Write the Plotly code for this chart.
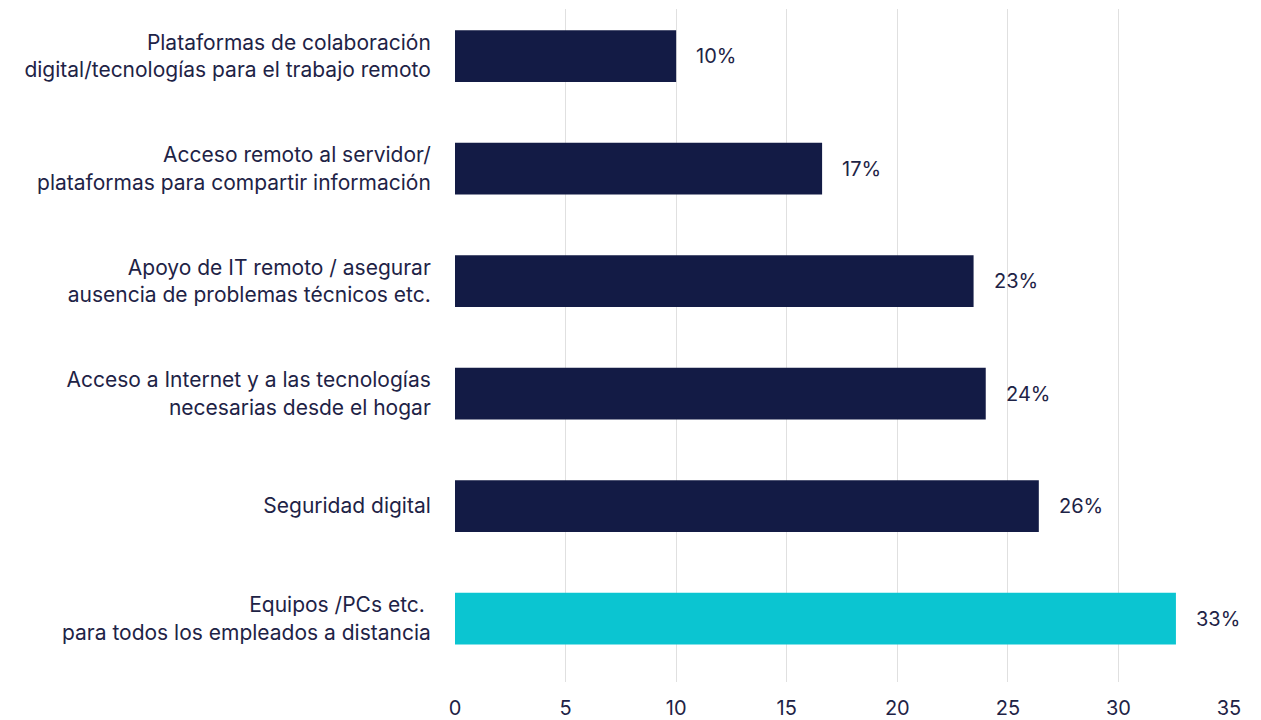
import plotly.graph_objects as go

categories = [
    "Plataformas de colaboración<br>digital/tecnologías para el trabajo remoto",
    "Acceso remoto al servidor/<br>plataformas para compartir información",
    "Apoyo de IT remoto / asegurar<br>ausencia de problemas técnicos etc.",
    "Acceso a Internet y a las tecnologías<br>necesarias desde el hogar",
    "Seguridad digital",
    "Equipos /PCs etc. <br>para todos los empleados a distancia",
]
values = [10.0, 16.6, 23.45, 24.0, 26.4, 32.6]
bar_colors = ["#131b45", "#131b45", "#131b45", "#131b45", "#131b45", "#0bc5d1"]
x_ticks = [0, 5, 10, 15, 20, 25, 30, 35]

TEXT = "#1e2346"
FONT = "Inter, Lato, sans-serif"

fig = go.Figure(
    go.Bar(
        x=values,
        y=categories,
        orientation="h",
        marker=dict(color=bar_colors, line=dict(width=0)),
        width=0.46,
        hoverinfo="skip",
    )
)

# value labels placed just right of each bar end
for cat, v in zip(categories, values):
    fig.add_annotation(
        x=v, y=cat, text=f"{v:.0f}%", showarrow=False,
        xanchor="left", xshift=18,
        font=dict(family=FONT, size=20, color=TEXT),
    )

fig.update_layout(
    width=1261, height=720,
    margin=dict(l=455, r=32, t=9, b=38),
    paper_bgcolor="white", plot_bgcolor="white",
    showlegend=False,
    font=dict(family=FONT, size=20, color=TEXT),
)
fig.update_xaxes(
    range=[0, 35], tickvals=x_ticks, showgrid=True, gridcolor="#e0e0e0",
    gridwidth=1, zeroline=False, showline=False, automargin=False,
    ticks="outside", ticklen=8, tickcolor="rgba(0,0,0,0)",
    tickfont=dict(family=FONT, size=20, color=TEXT),
)
fig.update_yaxes(
    range=[5.564, -0.418], showgrid=False, zeroline=False, showline=False,
    automargin=False,
    ticks="outside", ticklen=19, tickcolor="rgba(0,0,0,0)",
    tickfont=dict(family=FONT, size=21, color=TEXT),
)

fig.write_html("out.html")
